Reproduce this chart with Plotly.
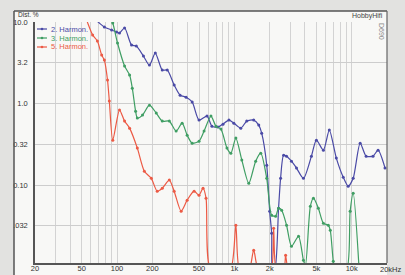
import plotly.graph_objects as go
import math

# ---------------- data ----------------
freq_h2 = [66, 78, 90, 99, 105, 116, 133, 146, 168, 189, 212, 243, 268, 307, 345, 388, 437, 500, 585, 644,
           725, 800, 899, 990, 1135, 1276, 1462, 1614, 1710, 1888, 2000, 2080, 2120, 2205, 2382, 2478, 2630, 2786,
           3069, 3388, 3882, 4539, 5003, 5741, 6446, 7396, 8474, 9336, 10300, 11810, 13280, 15210, 16790, 19240]
dist_h2 = [10.6, 8.68, 7.98, 7.54, 7.33, 8.44, 5.23, 5.08, 3.83, 2.97, 4.17, 2.58, 2.58, 1.69, 1.27, 1.20, 1.05,
           0.630, 0.705, 0.531, 0.517, 0.562, 0.630, 0.578, 0.502, 0.612, 0.630, 0.547, 0.436, 0.177, 0.0483, 0.026,
           0.009, 0.009, 0.0526, 0.122, 0.234, 0.228, 0.198, 0.163, 0.122, 0.228, 0.358, 0.270, 0.475, 0.216, 0.126,
           0.0977, 0.122, 0.329, 0.228, 0.228, 0.270, 0.163]

freq_h3 = [88, 92, 101, 116, 128, 135, 144, 149, 165, 189, 216, 243, 279, 319, 359, 396, 437, 500, 552, 632,
           697, 769, 865, 934, 1030, 1158, 1328, 1520, 1679, 1888, 2080, 2248, 2382, 2529, 2786, 3069, 3524, 3882,
           4036, 4446, 4721, 5200, 5741, 6325, 6575, 6967, 7240, 8990, 9707, 10300, 11590]
dist_h3 = [11.0, 9.72, 5.53, 2.89, 2.24, 1.55, 0.811, 0.667, 0.725, 0.96, 0.767, 0.612, 0.612, 0.462, 0.578,
           0.412, 0.329, 0.348, 0.462, 0.705, 0.531, 0.489, 0.286, 0.248, 0.379, 0.204, 0.106, 0.198, 0.248, 0.122,
           0.0431, 0.0420, 0.0526, 0.0497, 0.0325, 0.0180, 0.0238, 0.0121, 0.0105, 0.0556, 0.0697, 0.0526, 0.0344,
           0.0325, 0.0282, 0.0118, 0.009, 0.009, 0.0483, 0.0802, 0.009]

freq_h5 = [52, 55, 62, 68, 74, 78, 83, 86, 92, 105, 116, 128, 149, 171, 196, 220, 243, 279, 307, 352,
           396, 454, 500, 541, 574, 632, 917, 1030, 1114, 1328, 1462, 1614, 2038, 2162, 2292, 2630, 2735, 2841]
dist_h5 = [12.9, 10.6, 6.93, 5.85, 3.94, 3.42, 1.95, 1.08, 0.358, 0.835, 0.612, 0.502, 0.286, 0.149, 0.122,
           0.0849, 0.0924, 0.116, 0.0849, 0.0483, 0.0659, 0.0849, 0.0758, 0.0924, 0.0697, 0.009, 0.009, 0.0325,
           0.009, 0.009, 0.0161, 0.009, 0.009, 0.0299, 0.009, 0.009, 0.0140, 0.009]

series_names = ["2. Harmon.", "3. Harmon.", "5. Harmon."]
series_colors = ["#4a4aa6", "#3f9e63", "#ec5a45"]

x_grid_vals = [20, 30, 40, 50, 60, 70, 80, 90, 100, 200, 300, 400, 500, 600, 700, 800, 900,
               1000, 2000, 3000, 4000, 5000, 6000, 7000, 8000, 9000, 10000, 20000]
x_labels = {20: "20", 50: "50", 100: "100", 200: "200", 500: "500", 1000: "1k", 2000: "2k",
            5000: "5k", 10000: "10k"}
x_end_label = "20kHz"
y_tick_vals = [10, 3.2, 1, 0.32, 0.1, 0.032]
y_tick_text = ["10.0", "3.2", "1.0", "0.32", "0.10", ".032"]

# ---------------- layout geometry ----------------
W, H = 405, 275
L, R, T, B = 35, 18, 22, 12
PW, PH = W - L - R, H - T - B


def px(x):
    return (x - L) / PW


def py(y):
    return (H - B - y) / PH


FONT = "Liberation Sans, Arial, sans-serif"

fig = go.Figure()
for f, d, name, col in zip([freq_h2, freq_h3, freq_h5], [dist_h2, dist_h3, dist_h5], series_names, series_colors):
    fig.add_trace(go.Scatter(
        x=f, y=d, name=name, mode="lines+markers",
        line=dict(color=col, width=1.2, shape="spline", smoothing=0.7),
        marker=dict(color=col, size=3),
        showlegend=False,
    ))

shapes = []
shapes.append(dict(type="rect", xref="paper", yref="paper", x0=px(14), x1=px(387), y0=py(275), y1=py(11),
                   fillcolor="#f8f8f6", line=dict(width=0), layer="below"))
shapes.append(dict(type="line", xref="paper", yref="paper", x0=px(14), x1=px(387), y0=py(11), y1=py(11),
                   line=dict(color="#555", width=1.5)))
shapes.append(dict(type="line", xref="paper", yref="paper", x0=px(14), x1=px(14), y0=py(11), y1=py(275),
                   line=dict(color="#555", width=1.5)))
shapes.append(dict(type="line", xref="paper", yref="paper", x0=px(387), x1=px(387), y0=py(11), y1=py(263),
                   line=dict(color="#666", width=1.2)))

annotations = []
leg_y = [29, 38, 47]
for name, col, yy in zip(series_names, series_colors, leg_y):
    shapes.append(dict(type="line", xref="paper", yref="paper", x0=px(37), x1=px(47), y0=py(yy), y1=py(yy),
                       line=dict(color=col, width=1.2)))
    shapes.append(dict(type="circle", xref="paper", yref="paper", x0=px(40.7), x1=px(43.3),
                       y0=py(yy + 1.3), y1=py(yy - 1.3), fillcolor=col, line=dict(width=0)))
    annotations.append(dict(xref="paper", yref="paper", x=px(49), y=py(yy), text=name, showarrow=False,
                            xanchor="left", yanchor="middle", font=dict(family=FONT, size=7.5, color=col)))

annotations.append(dict(xref="paper", yref="paper", x=px(16), y=py(14.5), text="Dist. %", showarrow=False,
                        xanchor="left", yanchor="middle", font=dict(family=FONT, size=6.5, color="#333")))
annotations.append(dict(xref="paper", yref="paper", x=px(385), y=py(15.5), text="HobbyHifi", showarrow=False,
                        xanchor="right", yanchor="middle", font=dict(family=FONT, size=7, color="#444")))
annotations.append(dict(xref="paper", yref="paper", x=px(381), y=py(31), text="D690", showarrow=False,
                        textangle=90, xanchor="center", yanchor="middle",
                        font=dict(family=FONT, size=7, color="#888")))
annotations.append(dict(xref="paper", yref="paper", x=px(404), y=py(269), text=x_end_label, showarrow=False,
                        xanchor="right", yanchor="middle",
                        font=dict(family=FONT, size=7.5, color="#333")))

fig.update_layout(
    width=W, height=H, autosize=False,
    margin=dict(l=L, r=R, t=T, b=B, pad=0),
    paper_bgcolor="#e2e2e0", plot_bgcolor="#f8f8f6",
    font=dict(family=FONT, size=8, color="#333"),
    shapes=shapes, annotations=annotations,
    xaxis=dict(type="log", range=[math.log10(20), math.log10(20000)], automargin=False,
               tickvals=x_grid_vals, ticktext=[x_labels.get(v, "") for v in x_grid_vals],
               showgrid=True, gridcolor="#d3d3d3", gridwidth=1,
               showline=True, linecolor="#555", linewidth=1.5, ticks="", zeroline=False,
               tickfont=dict(size=7.5, color="#333"), ticklabelstandoff=-3),
    yaxis=dict(type="log", range=[-1.95, 1.0], automargin=False,
               tickvals=y_tick_vals, ticktext=y_tick_text,
               showgrid=True, gridcolor="#cdcdcd", gridwidth=1,
               showline=True, linecolor="#555", linewidth=1.5, ticks="", zeroline=False,
               tickfont=dict(size=7.5, color="#333"), ticklabelstandoff=4),
)

fig.write_html("out.html", config={"displayModeBar": False},
               post_script="document.body.style.margin='0';document.body.style.padding='0';")
